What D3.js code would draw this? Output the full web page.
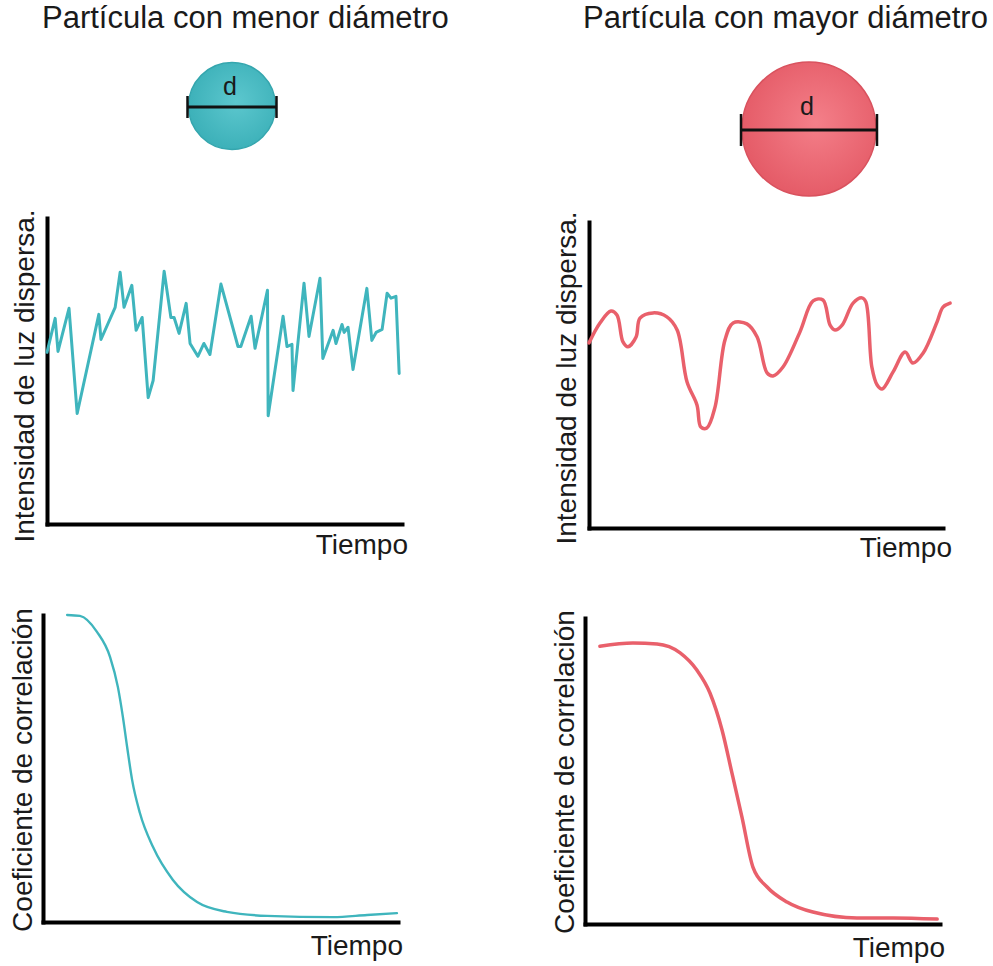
<!DOCTYPE html>
<html>
<head>
<meta charset="utf-8">
<script src="https://cdn.jsdelivr.net/npm/d3@7"></script>
<style>
    body { margin: 0; background: #fff; }
    text { font-family: "Liberation Sans", Arial, sans-serif; fill: #1a1a1a; }
</style>
</head>
<body>
<div id="chart"></div>
<script>
// data (arbitrary units, time 0-100)
const titles = ['Partícula con menor diámetro', 'Partícula con mayor diámetro']
const xLabel = 'Tiempo'
const yLabels = ['Intensidad de luz dispersa.', 'Coeficiente de correlación']

const smallTime = [0, 2.3, 3.1, 6.2, 8.5, 14.6, 15.2, 19.2, 20.6, 21.7, 23.9, 25.1, 26.8, 28.5, 29.9, 33.0,
    34.9, 35.8, 37.2, 39.2, 40.3, 42.5, 44.2, 45.9, 49.0, 53.8, 54.6, 57.5, 58.6, 62.1, 62.3, 66.5,
    67.6, 69.0, 69.3, 72.4, 73.8, 76.9, 77.7, 80.6, 81.4, 83.1, 83.7, 84.8, 86.2, 90.1, 91.5, 92.7,
    94.4, 95.8, 96.9, 98.3, 99.2]
const smallIntensity = [56.1, 67.2, 56.4, 70.5, 36.1, 68.5, 60.3, 70.8, 82.3, 70.8, 78.0, 63.3, 67.5, 41.3, 46.9, 82.6,
    67.5, 67.5, 62.3, 72.1, 59.0, 54.8, 59.0, 55.4, 78.4, 58.0, 58.0, 67.9, 57.4, 76.4, 35.4, 67.9,
    58.0, 58.7, 43.6, 78.7, 61.3, 80.3, 54.1, 63.3, 59.0, 65.2, 62.6, 64.3, 50.5, 77.0, 60.0, 62.6,
    63.6, 75.4, 73.8, 74.4, 49.2]

const largeTime = [0, 3.1, 6.2, 7.9, 9.6, 11.0, 13.3, 14.4, 18.1, 22.0, 24.9, 27.7, 30.5, 31.6, 33.3, 35.6,
    38.4, 40.7, 44.6, 47.5, 50.3, 52.0, 54.8, 59.6, 63.3, 66.1, 68.1, 69.5, 71.5, 74.6, 77.1, 78.2,
    79.9, 81.4, 82.8, 85.9, 89.3, 91.5, 94.4, 98.3, 100, 102]
const largeIntensity = [60.5, 67.0, 70.9, 69.6, 60.8, 59.2, 62.4, 68.6, 70.3, 69.0, 64.7, 47.7, 40.2, 33.0, 32.7, 39.5,
    61.4, 67.0, 66.7, 62.4, 50.7, 49.7, 52.6, 64.1, 74.2, 74.5, 66.3, 64.7, 66.3, 73.5, 75.2, 73.9,
    52.6, 46.7, 45.4, 51.0, 57.5, 53.9, 57.2, 67.3, 72.2, 73.5]

const smallLag = [6.8, 10.4, 15.2, 18.9, 21.1, 22.5, 23.7, 25.1, 27.3, 31.0, 36.6, 43.4, 51.8, 63.1, 81.7, 91.3, 99.7]
const smallCorr = [1.0, 0.997, 0.945, 0.863, 0.765, 0.668, 0.570, 0.463, 0.355, 0.244, 0.137, 0.065, 0.033, 0.020, 0.016, 0.023, 0.029]

const largeLag = [4.2, 13.5, 20.3, 26.8, 31.5, 35.2, 38.6, 41.4, 44.2, 47.3, 51.3, 56.9, 64.2, 76.6, 86.8, 99.2]
const largeCorr = [0.908, 0.918, 0.915, 0.886, 0.830, 0.755, 0.634, 0.493, 0.350, 0.186, 0.121, 0.072, 0.039, 0.020, 0.020, 0.016]

const teal = '#3fb5bd', red = '#e9606b'

const svg = d3.select('#chart')
    .append('svg')
    .attr('width', 993)
    .attr('height', 966)

appendGradients(svg)

// titles
svg.selectAll('.title')
    .data(titles)
    .enter()
    .append('text')
    .attr('class', 'title')
    .attr('x', (d, i) => i ? 583 : 42)
    .attr('y', 28)
    .attr('font-size', 31)
    .text(d => d)

// particles with diameter marker
appendParticle(svg, 232, 106, 43.5, 'url(#grad-teal)', '#35a6ae', 11)
appendParticle(svg, 809, 129, 67, 'url(#grad-red)', '#d9525e', 16)

// panels
panel(svg, {
    x: [47, 402], y: [524, 218], yDomain: [0, 100],
    t: smallTime, v: smallIntensity, color: teal, width: 3, curve: d3.curveLinear,
    yLabel: yLabels[0], yLabelPos: [34, 376], xLabelPos: [408, 554]
})
panel(svg, {
    x: [589, 943], y: [528, 222], yDomain: [0, 100],
    t: largeTime, v: largeIntensity, color: red, width: 3.5, curve: d3.curveCatmullRom.alpha(0.5),
    yLabel: yLabels[0], yLabelPos: [576, 378], xLabelPos: [952, 557]
})
panel(svg, {
    x: [43, 398], y: [922, 615], yDomain: [0, 1],
    t: smallLag, v: smallCorr, color: teal, width: 2.4, curve: d3.curveMonotoneX,
    yLabel: yLabels[1], yLabelPos: [32, 770], xLabelPos: [403, 955]
})
panel(svg, {
    x: [585, 940], y: [924, 618], yDomain: [0, 1],
    t: largeLag, v: largeCorr, color: red, width: 3.5, curve: d3.curveMonotoneX,
    yLabel: yLabels[1], yLabelPos: [574, 772], xLabelPos: [945, 957]
})

/** Draws one panel: bare axes, the line and the labels
 *
 * @param {*} g
 * @param {*} p
 */
function panel(g, p) {

    let x = d3.scaleLinear().domain([0, 100]).range(p.x)
    let y = d3.scaleLinear().domain(p.yDomain).range(p.y)

    g.append('g')
        .attr('transform', 'translate(0,' + p.y[0] + ')')
        .call(d3.axisBottom(x).tickValues([]).tickSizeOuter(0))
        .call(a => a.select('.domain').attr('stroke', '#000').attr('stroke-width', 4).attr('stroke-linecap', 'square'))

    g.append('g')
        .attr('transform', 'translate(' + p.x[0] + ',0)')
        .call(d3.axisLeft(y).tickValues([]).tickSizeOuter(0))
        .call(a => a.select('.domain').attr('stroke', '#000').attr('stroke-width', 4).attr('stroke-linecap', 'square'))

    let line = d3.line()
        .x(d => x(d[0]))
        .y(d => y(d[1]))
        .curve(p.curve)

    g.append('path')
        .datum(d3.zip(p.t, p.v))
        .attr('d', line)
        .attr('fill', 'none')
        .attr('stroke', p.color)
        .attr('stroke-width', p.width)
        .attr('stroke-linejoin', 'round')
        .attr('stroke-linecap', 'round')

    g.append('text')
        .attr('transform', 'translate(' + p.yLabelPos[0] + ',' + p.yLabelPos[1] + ') rotate(-90)')
        .attr('text-anchor', 'middle')
        .attr('font-size', 28)
        .text(p.yLabel)

    g.append('text')
        .attr('x', p.xLabelPos[0])
        .attr('y', p.xLabelPos[1])
        .attr('text-anchor', 'end')
        .attr('font-size', 28)
        .text(xLabel)
}

/** Appends a particle with its diameter bar and the "d" label
 *
 * @param {*} g
 */
function appendParticle(g, cx, cy, r, fill, stroke, cap) {

    g.append('circle')
        .attr('cx', cx)
        .attr('cy', cy)
        .attr('r', r)
        .attr('fill', fill)
        .attr('stroke', stroke)
        .attr('stroke-width', 1.5)

    g.append('line')
        .attr('x1', cx - r - 1).attr('x2', cx + r + 1)
        .attr('y1', cy + 1).attr('y2', cy + 1)
        .attr('stroke', '#111').attr('stroke-width', 3)

    ;[cx - r - 1, cx + r + 1].forEach(px => {
        g.append('line')
            .attr('x1', px).attr('x2', px)
            .attr('y1', cy + 1 - cap).attr('y2', cy + 1 + cap)
            .attr('stroke', '#111').attr('stroke-width', 2.5)
    })

    g.append('text')
        .attr('x', cx - 2)
        .attr('y', cy - 6 - r * 0.12)
        .attr('text-anchor', 'middle')
        .attr('font-size', 25)
        .text('d')
}

/** Radial gradients for the particles
 *
 * @param {*} g
 */
function appendGradients(g) {

    let defs = g.append('defs')
    let grads = [
        { id: 'grad-teal', stops: ['#5cc7ce', '#3db1b9'] },
        { id: 'grad-red', stops: ['#f47f89', '#e55c68'] }
    ]
    grads.forEach(gr => {
        defs.append('radialGradient')
            .attr('id', gr.id)
            .attr('cx', '55%').attr('cy', '45%').attr('r', '55%')
            .selectAll('stop')
            .data(gr.stops)
            .enter().append('stop')
            .attr('offset', (d, i) => i ? '100%' : '0%')
            .attr('stop-color', d => d)
    })
}
</script>
</body>
</html>
